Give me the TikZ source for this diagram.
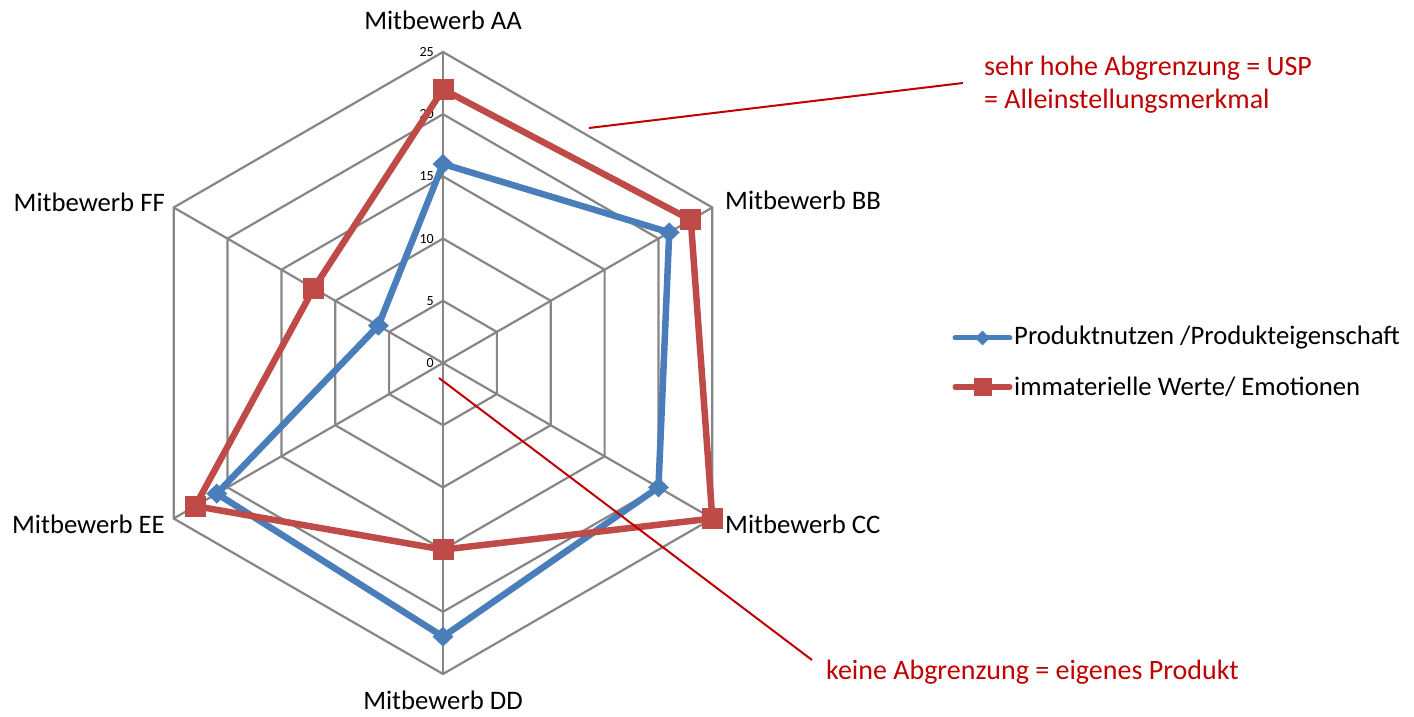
\documentclass[tikz,border=0pt]{standalone}
\usepackage{fontspec}
\setmainfont{Carlito}
\usetikzlibrary{shapes.geometric}
\definecolor{gridgray}{HTML}{868686}
\definecolor{seriesblue}{HTML}{4A7EBB}
\definecolor{seriesred}{HTML}{BE4B48}
\definecolor{notered}{HTML}{C00000}
\def\valscale{12.44}
\begin{document}
\begin{tikzpicture}[x=1pt,y=1pt,
  gridline/.style={draw=gridgray, line width=2.2pt},
  axislabel/.style={font=\fontsize{26.7}{32}\selectfont, inner sep=0pt},
  ticklabel/.style={font=\fontsize{14}{16}\selectfont, anchor=east, inner sep=0pt},
  blueline/.style={draw=seriesblue, line width=6.5pt, line join=round},
  redline/.style={draw=seriesred, line width=6.5pt, line join=round},
  bluemark/.style={diamond, fill=seriesblue, inner sep=0pt, minimum width=21pt, minimum height=20pt},
  redmark/.style={rectangle, fill=seriesred, inner sep=0pt, minimum size=21pt},
  legblue/.style={diamond, fill=seriesblue, inner sep=0pt, minimum size=15pt},
  legred/.style={rectangle, fill=seriesred, inner sep=0pt, minimum size=18pt},
  note/.style={font=\fontsize{28}{33}\selectfont, text=notered, inner sep=0pt, align=left},
  noteline/.style={draw=notered, line width=2pt}
]
\useasboundingbox (0,0) rectangle (1414,716);

\begin{scope}[shift={(443,353)}]
  % web grid: rings every 5 units and six spokes
  \foreach \k in {1,...,5} {
    \pgfmathsetmacro\rr{62.2*\k}
    \draw[gridline] (90:\rr) -- (30:\rr) -- (-30:\rr) -- (-90:\rr) -- (-150:\rr) -- (150:\rr) -- cycle;
  }
  \foreach \a in {90,30,-30,-90,-150,150}
    \draw[gridline] (0,0) -- (\a:311);

  % scale labels along the top spoke
  \foreach \v [count=\i from 0] in {0,5,10,15,20,25}
    \node[ticklabel] (tick\i) at (-9,{62.2*\i}) {\v};

  % category labels
  \node[axislabel, anchor=center] (labAA) at (0,343) {Mitbewerb AA};
  \node[axislabel, anchor=west]   (labBB) at (282,163) {Mitbewerb BB};
  \node[axislabel, anchor=west]   (labCC) at (282,-161) {Mitbewerb CC};
  \node[axislabel, anchor=center] (labDD) at (0,-337) {Mitbewerb DD};
  \node[axislabel, anchor=east]   (labEE) at (-278,-161) {Mitbewerb EE};
  \node[axislabel, anchor=east]   (labFF) at (-278,161) {Mitbewerb FF};

  % data points
  \foreach \a/\v [count=\i] in {90/16,30/21,-30/20,-90/22,-150/21,150/6}
    \coordinate (b\i) at (\a:{\v*\valscale});
  \foreach \a/\v [count=\i] in {90/22,30/23,-30/25,-90/15,-150/23,150/12}
    \coordinate (r\i) at (\a:{\v*\valscale});

  \draw[blueline] (b1) -- (b2) -- (b3) -- (b4) -- (b5) -- (b6) -- cycle;
  \draw[redline] (r1) -- (r2) -- (r3) -- (r4) -- (r5) -- (r6) -- cycle;
  \foreach \i in {1,...,6} \node[bluemark] (bm\i) at (b\i) {};
  \foreach \i in {1,...,6} \node[redmark] (rm\i) at (r\i) {};

  \coordinate (owncenter) at (-4,-15);
\end{scope}

% legend
\coordinate (lb1) at (955,378);
\coordinate (lb2) at (1010,378);
\coordinate (lr1) at (955,329);
\coordinate (lr2) at (1010,329);
\draw[draw=seriesblue, line width=5pt, line cap=round] (lb1) -- (lb2);
\node[legblue] (legbm) at (982.5,378) {};
\node[axislabel, anchor=west] (legbt) at (1014,378) {Produktnutzen /Produkteigenschaft};
\draw[draw=seriesred, line width=5pt, line cap=round] (lr1) -- (lr2);
\node[legred] (legrm) at (982.5,329) {};
\node[axislabel, anchor=west] (legrt) at (1014,329) {immaterielle Werte/ Emotionen};

% annotations
\node[note, anchor=base west] (usp) at (984,607) {sehr hohe Abgrenzung = USP\\= Alleinstellungsmerkmal};
\coordinate (uspa) at (963,633);
\coordinate (uspb) at (589,588);
\draw[noteline] (uspa) -- (uspb);
\node[note, anchor=west] (own) at (826,44) {keine Abgrenzung = eigenes Produkt};
\coordinate (owna) at (812,56);
\draw[noteline] (owncenter) -- (owna);
\end{tikzpicture}
\end{document}
